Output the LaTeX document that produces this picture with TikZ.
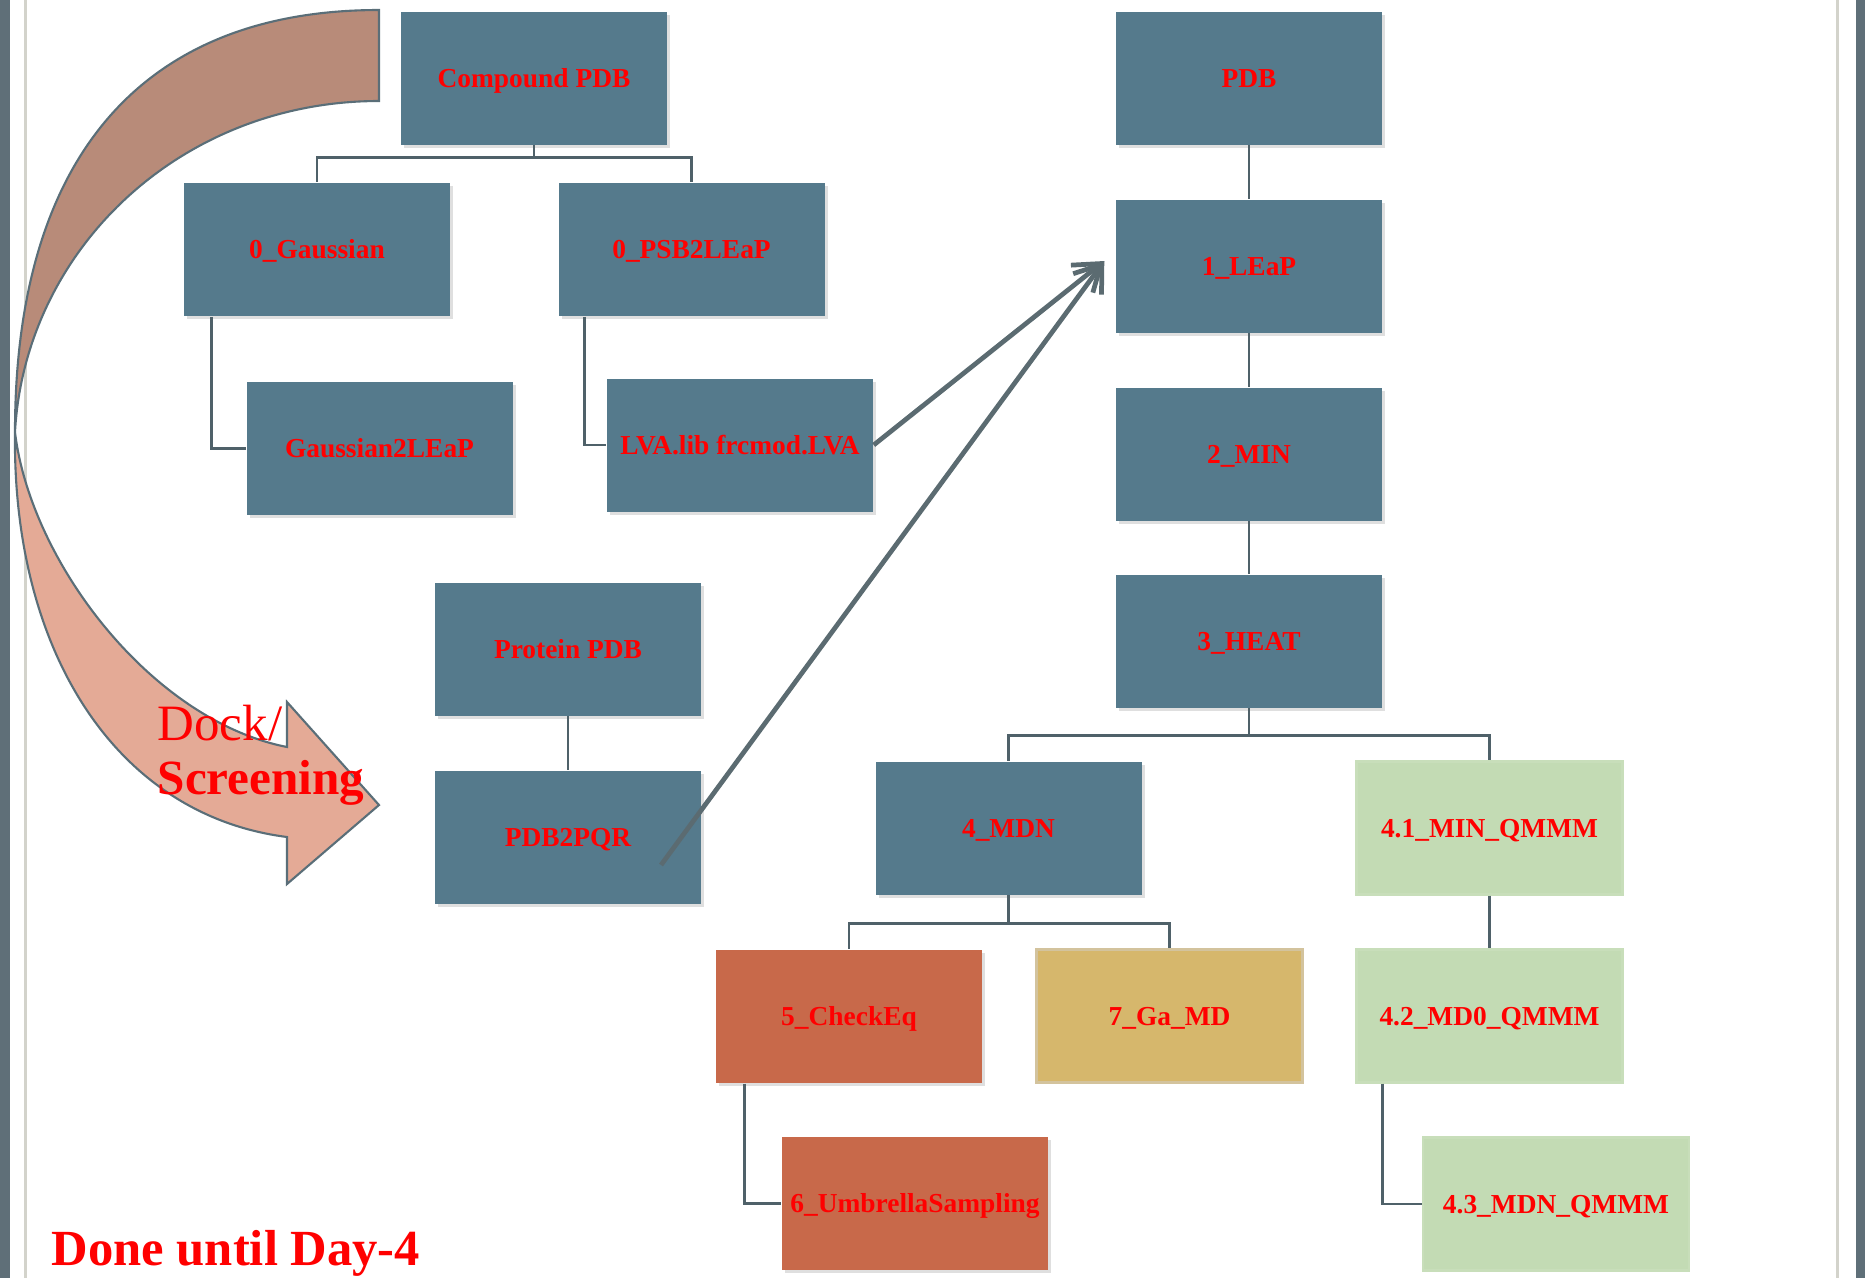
\documentclass[tikz,border=0pt]{standalone}
\usepackage{fontspec}
\setmainfont{Liberation Serif}
\usetikzlibrary{arrows.meta,shadows}

\definecolor{boxblue}{HTML}{557A8C}
\definecolor{boxred}{HTML}{C8694A}
\definecolor{boxgold}{HTML}{D6B76C}
\definecolor{boxgreen}{HTML}{C3DBB4}
\definecolor{linkgray}{HTML}{4F6169}
\definecolor{arrowgray}{HTML}{5B6B71}
\definecolor{bandback}{HTML}{B88B79}
\definecolor{bandfront}{HTML}{E4AA96}
\definecolor{bandline}{HTML}{5A6E78}
\definecolor{edgedark}{HTML}{5F6F78}
\definecolor{edgelight}{HTML}{D3D3CB}

\tikzset{
  box/.style={minimum width=2.66cm, minimum height=1.33cm, inner sep=0pt,
    text height=5.3pt, text depth=0pt,
    text=red, font=\fontsize{7.8}{9}\selectfont\bfseries},
  bluebox/.style={box, fill=boxblue,
    drop shadow={opacity=0.25, shadow xshift=0.03cm, shadow yshift=-0.03cm}},
  redbox/.style={box, fill=boxred,
    drop shadow={opacity=0.25, shadow xshift=0.03cm, shadow yshift=-0.03cm}},
  goldbox/.style={box, fill=boxgold, draw=boxgold!85!black!60, line width=0.6pt},
  greenbox/.style={box, fill=boxgreen, draw=boxgreen!92!white, line width=0.6pt},
  link/.style={draw=linkgray, line width=0.75pt},
  pointer/.style={draw=arrowgray, line width=1.35pt,
    -{Straight Barb[length=7pt, width=10pt]}},
  freetext/.style={anchor=base west, inner sep=0pt, text=red},
}

\begin{document}
\begin{tikzpicture}
  \useasboundingbox (0,0) rectangle (18.65,-12.78);

  % page edges
  \fill[edgedark] (0,0) rectangle (0.10,-12.78);
  \fill[edgelight] (0.24,0) rectangle (0.27,-12.78);
  \fill[edgelight] (18.36,0) rectangle (18.39,-12.78);
  \fill[edgedark] (18.56,0) rectangle (18.65,-12.78);

  % dock/screening band
  \filldraw[fill=bandback, draw=bandline, line width=0.6pt]
    (3.79,-0.10) .. controls (1.40,-0.10) and (0.15,-1.60) .. (0.15,-4.32)
    .. controls (0.25,-2.50) and (1.80,-1.01) .. (3.79,-1.01) -- cycle;
  \filldraw[fill=bandfront, draw=bandline, line width=0.6pt]
    (0.15,-4.32) .. controls (0.12,-6.50) and (1.15,-8.15) .. (2.87,-8.37)
    -- (2.87,-8.84) -- (3.79,-8.05) -- (2.87,-7.02) -- (2.87,-7.47)
    .. controls (1.50,-7.20) and (0.30,-5.60) .. (0.15,-4.32) -- cycle;
  \node[freetext, font=\fontsize{14.5}{16}\selectfont] (dock) at (1.57,-7.40) {Dock/};
  \node[freetext, font=\fontsize{14}{16}\selectfont\bfseries] (screen) at (1.57,-7.94) {Screening};

  % ligand side
  \node[bluebox] (cpdb) at (5.34,-0.78) {Compound PDB};
  \node[bluebox] (gauss) at (3.17,-2.495) {0\_Gaussian};
  \node[bluebox] (psb) at (6.915,-2.495) {0\_PSB2LEaP};
  \node[bluebox] (g2l) at (3.795,-4.485) {Gaussian2LEaP};
  \node[bluebox] (lva) at (7.40,-4.45) {LVA.lib frcmod.LVA};
  \node[bluebox] (prot) at (5.68,-6.49) {Protein PDB};
  \node[bluebox] (pqr) at (5.68,-8.37) {PDB2PQR};

  % MD side
  \node[bluebox] (pdb) at (12.49,-0.78) {PDB};
  \node[bluebox] (leap) at (12.49,-2.66) {1\_LEaP};
  \node[bluebox] (min) at (12.49,-4.54) {2\_MIN};
  \node[bluebox] (heat) at (12.49,-6.41) {3\_HEAT};
  \node[bluebox] (mdn) at (10.085,-8.28) {4\_MDN};
  \node[greenbox] (qm1) at (14.895,-8.28) {4.1\_MIN\_QMMM};
  \node[redbox] (check) at (8.49,-10.165) {5\_CheckEq};
  \node[goldbox] (gamd) at (11.695,-10.16) {7\_Ga\_MD};
  \node[greenbox] (qm2) at (14.895,-10.16) {4.2\_MD0\_QMMM};
  \node[redbox] (umb) at (9.15,-12.035) {6\_UmbrellaSampling};
  \node[greenbox] (qm3) at (15.56,-12.04) {4.3\_MDN\_QMMM};

  \draw[link] (cpdb.south) -- ++(0,-0.12) -| (gauss.north);
  \draw[link] (cpdb.south) -- ++(0,-0.12) -| (psb.north);
  \draw[link] ([xshift=0.28cm]gauss.south west) |- (g2l.west);
  \draw[link] ([xshift=0.27cm]psb.south west) |- (lva.west);
  \draw[link] (prot) -- (pqr);
  \draw[link] (pdb) -- (leap) -- (min) -- (heat);
  \draw[link] (heat.south) -- ++(0,-0.27) -| (mdn.north);
  \draw[link] (heat.south) -- ++(0,-0.27) -| (qm1.north);
  \draw[link] (mdn.south) -- ++(0,-0.28) -| (check.north);
  \draw[link] (mdn.south) -- ++(0,-0.28) -| (gamd.north);
  \draw[link] (qm1) -- (qm2);
  \draw[link] ([xshift=0.27cm]qm2.south west) |- (qm3.west);
  \draw[link] ([xshift=0.29cm]check.south west) |- (umb.west);

  % inputs into LEaP
  \coordinate (leaptip) at ([xshift=-0.11cm,yshift=0.05cm]leap.west);
  \coordinate (pqrout) at (6.61,-8.65);
  \draw[pointer] (lva.east) -- (leaptip);
  \draw[pointer] (pqrout) -- (leaptip);

  \node[freetext, font=\fontsize{14.4}{16}\selectfont\bfseries] (done) at (0.51,-12.65) {Done until Day-4};
\end{tikzpicture}
\end{document}
